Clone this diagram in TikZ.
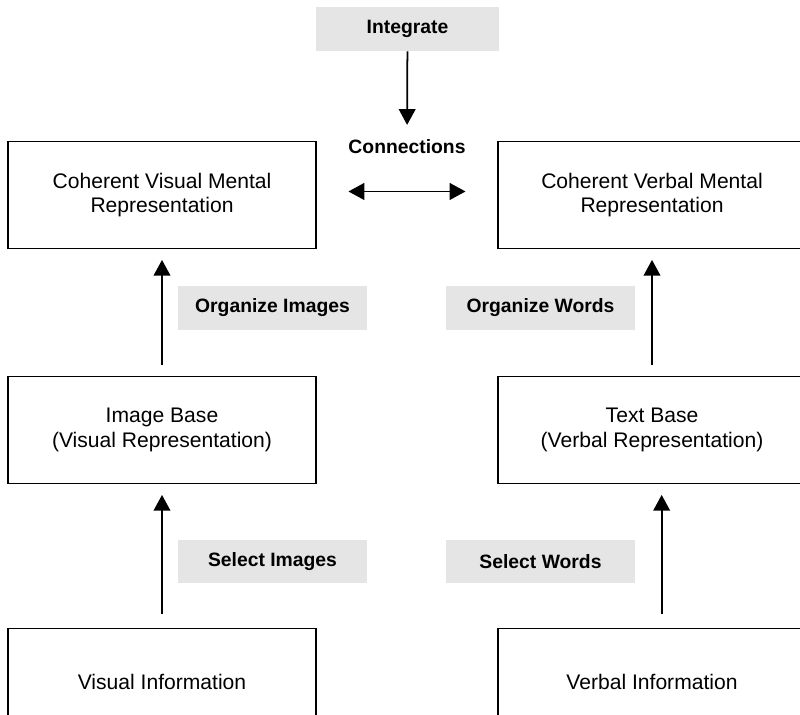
\documentclass[tikz,border=0pt]{standalone}
\usepackage{fontspec}
\setmainfont{Liberation Sans}
\usetikzlibrary{arrows.meta}
\definecolor{stepgray}{HTML}{E5E5E5}

\begin{document}
\begin{tikzpicture}[
    x=0.02cm, y=-0.02cm,
    mentalbox/.style={rectangle, draw=black, line width=1pt, minimum width=6.16cm, minimum height=2.14cm, align=center, font=\fontsize{12}{14}\selectfont},
    process/.style={rectangle, fill=stepgray, minimum width=3.78cm, minimum height=0.88cm, font=\fontsize{11}{13}\selectfont\bfseries},
    arrow/.style={-{Triangle[length=9pt, width=9.5pt]}, line width=1pt},
    twoway/.style={{Triangle[length=9pt, width=9.5pt]}-{Triangle[length=9pt, width=9.5pt]}, line width=1.1pt}
]

% Page frame; right and bottom boxes run off the edge
\useasboundingbox (0,0) rectangle (800,715);
\clip (0,0) rectangle (800,715);

% Integration step on top
\node[process, minimum width=3.66cm] (integrate) at (407.5,29) {Integrate};
\node[font=\fontsize{11}{13}\selectfont\bfseries] (conn) at (407,147) {Connections};

% Mental representations, visual left and verbal right
\node[mentalbox] (cvis) at (162,195) {Coherent Visual Mental\\Representation};
\node[mentalbox] (cverb) at (652,195) {Coherent Verbal Mental\\Representation};

\node[mentalbox] (imgbase) at (162,430) {Image Base\\(Visual Representation)};
\node[mentalbox] (txtbase) at (652,430) {Text Base\\(Verbal Representation)};

\node[mentalbox] (visinfo) at (162,682) {Visual Information};
\node[mentalbox] (verbinfo) at (652,682) {Verbal Information};

% Processing steps
\node[process] (orgimg) at (272.5,308) {Organize Images};
\node[process] (orgwrd) at (540.5,308) {Organize Words};
\node[process] (selimg) at (272.5,561.5) {Select Images};
\node[process] (selwrd) at (540.5,561.5) {Select Words};

% Arrows
\draw[arrow, shorten >=5pt] (integrate) -- (conn);
\draw[twoway, shorten <=18pt, shorten >=18pt] ([yshift=2pt]cvis.east) -- ([yshift=2pt]cverb.west);

\draw[arrow, shorten <=6pt, shorten >=6pt] (imgbase) -- (cvis);
\draw[arrow, shorten <=8pt, shorten >=6pt] (visinfo) -- (imgbase);
\draw[arrow, shorten <=6pt, shorten >=6pt] (txtbase) -- (cverb);
\draw[arrow, shorten <=8pt, shorten >=6pt] ([xshift=5.5pt]verbinfo.north) -- ([xshift=5.5pt]txtbase.south);

\end{tikzpicture}
\end{document}
